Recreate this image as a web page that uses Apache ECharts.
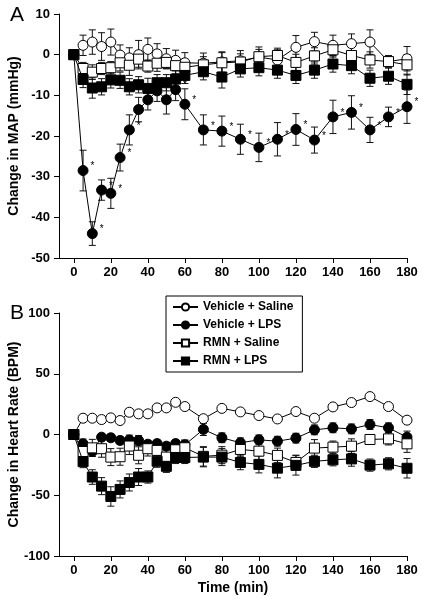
<!DOCTYPE html>
<html>
<head>
<meta charset="utf-8">
<script src="https://cdn.jsdelivr.net/npm/echarts@6/dist/echarts.min.js"></script>
<style>
html,body{margin:0;padding:0;background:#fff;}
#chart{width:426px;height:606px;}
</style>
</head>
<body>
<div id="chart"></div>
<script>
// ---- data ----
var times = [0,5,10,15,20,25,30,35,40,45,50,55,60,70,80,90,100,110,120,130,140,150,160,170,180];
var xTicks = [0,20,40,60,80,100,120,140,160,180];
var seriesNames = ['Vehicle + Saline','Vehicle + LPS','RMN + Saline','RMN + LPS'];

// Panel A: Change in MAP (mmHg)
var vsMap    = [0,2.3,3.1,2.0,3.1,-0.1,-0.8,0.0,1.3,0.2,-1.0,-1.4,-2.0,-2.1,-1.8,-1.5,-0.6,-1.3,1.8,3.2,2.3,2.7,3.1,-1.7,-1.0];
var vsMapErr = [0,2.5,3.0,3.4,3.2,2.5,2.5,3.5,2.8,2.5,2.5,2.5,2.5,2.5,2.5,2.5,2.5,2.5,2.9,2.3,2.5,2.4,3.0,1.5,3.0];
var vlMap    = [0,-28.5,-44.0,-33.3,-34.1,-25.3,-18.5,-13.5,-11.1,-8.9,-11.1,-8.6,-12.2,-18.5,-18.8,-20.8,-22.8,-20.8,-18.4,-21.0,-15.3,-14.2,-18.5,-15.3,-12.8];
var vlMapErr = [0,5.0,2.9,2.5,3.7,3.3,3.7,3.0,2.5,2.6,3.5,2.7,3.8,3.7,3.7,3.7,3.5,4.1,3.9,3.2,4.1,4.1,3.1,2.4,4.1];
var rsMap    = [0,-3.4,-4.3,-3.4,-3.2,-2.0,-2.6,-1.1,-2.8,-2.1,-1.9,-2.7,-3.1,-2.5,-2.0,-1.8,-0.5,-0.2,-1.9,-0.3,1.2,-0.2,-1.3,-1.7,-2.5];
var rsMapErr = [0,1.5,1.8,1.5,1.5,2.0,2.5,2.0,1.5,2.0,1.5,2.0,2.0,2.0,2.5,2.0,1.8,1.8,2.0,2.0,1.8,2.0,2.0,1.0,2.5];
var rlMap    = [0,-6.1,-8.2,-7.9,-6.2,-6.3,-7.9,-7.4,-8.3,-6.9,-6.9,-6.0,-5.1,-4.2,-5.5,-3.5,-3.2,-3.8,-5.1,-3.8,-2.3,-2.7,-5.8,-5.3,-7.3];
var rlMapErr = [0,2.0,2.5,2.0,2.0,2.0,2.0,2.0,2.5,2.0,2.0,2.0,2.0,2.0,2.7,2.0,2.0,2.0,2.0,2.0,2.0,2.0,2.0,2.0,2.5];

// Panel B: Change in Heart Rate (BPM)
var vsHr    = [0,13.4,13.4,12.3,13.7,11.5,18.3,17.0,17.0,21.9,21.9,26.5,23.0,13.0,21.5,18.6,15.6,12.8,18.9,13.4,22.7,26.3,31.2,23.0,11.8];
var vsHrErr = [0,2,2,2,2,2,3,2,2,2,2,2,2,2,2,2,2,2,2,2,2,2,2,2,2.5];
var vlHr    = [0,-7.7,-14,-2.2,-2.7,-4.9,-4.5,-4.9,-8,-7.5,-9.6,-7.5,-8.5,4.2,-2.7,-6.8,-4.4,-5.5,-3.0,3.8,5.5,4.6,8.2,5.5,-2.2];
var vlHrErr = [0,4,4,3,3,3,4,4,3,3,3,3,4,5,4,4,4,4,4,4,4,4,4,4,5];
var rsHr    = [0,-14,-11,-11.7,-18.6,-18.3,-9.5,-17.1,-11.7,-13.1,-18.6,-12.6,-10.9,-18,-17,-12.3,-13.7,-17.2,-23,-11.2,-10.4,-9.6,-4.1,-3.6,-7.7];
var rsHrErr = [0,7,7,7,7,7,7,7,6,6,6,6,6,8,7,6,7,6,6,7,5,6,4,5,7];
var rlHr    = [0,-22.3,-35,-42.5,-51,-45.2,-39.5,-35,-35,-22,-26.2,-18.9,-18.9,-18.6,-18.6,-23,-24.6,-27.7,-25.4,-22.1,-20.8,-20.1,-25.2,-24.1,-27.8];
var rlHrErr = [0,5,6,7,8,7,7,7,5,5,5,5,5,8,7,6,7,8,8,5,5,6,5,5,8];

// ---- build ----
var FONT = '"Liberation Sans", Arial, sans-serif';
var styles = [
  {symbol:'circle', fill:'#fff'},
  {symbol:'circle', fill:'#000'},
  {symbol:'rect', fill:'#fff'},
  {symbol:'rect', fill:'#000'}
];
function pairs(m){ return times.map(function(t,i){ return [t, m[i]]; }); }
function triples(m,e){ return times.map(function(t,i){ return [t, m[i], e[i]]; }); }

function errRender(params, api){
  var x = api.value(0), y = api.value(1), e = api.value(2);
  if (!e) return null;
  var top = api.coord([x, y + e]), bot = api.coord([x, y - e]);
  var w = 3.5, st = {stroke:'#111', lineWidth:1};
  return {type:'group', children:[
    {type:'line', shape:{x1:top[0],y1:top[1],x2:bot[0],y2:bot[1]}, style:st},
    {type:'line', shape:{x1:top[0]-w,y1:top[1],x2:top[0]+w,y2:top[1]}, style:st},
    {type:'line', shape:{x1:bot[0]-w,y1:bot[1],x2:bot[0]+w,y2:bot[1]}, style:st}
  ]};
}

var series = [];
function addPanel(idx, means, errs){
  for (var k=0;k<4;k++){
    series.push({
      type:'custom', xAxisIndex:idx, yAxisIndex:idx, renderItem:errRender,
      data:triples(means[k], errs[k]), z:2, silent:true
    });
  }
  for (var k=0;k<4;k++){
    var s = {
      name:seriesNames[k], type:'line', xAxisIndex:idx, yAxisIndex:idx,
      data:pairs(means[k]), symbol:styles[k].symbol, symbolSize:10,
      showAllSymbol:true, z:3 + k,
      lineStyle:{color:'#000', width:1},
      itemStyle:{color:styles[k].fill, borderColor:'#000', borderWidth:1, opacity:1},
      emphasis:{disabled:true}, animation:false
    };
    if (idx === 0 && k === 1) {
      s.label = {show:true, position:'right', distance:2, offset:[0,-4],
        fontSize:10, color:'#000', fontFamily:FONT,
        formatter:function(p){ return p.dataIndex > 0 ? '*' : ''; }};
    }
    series.push(s);
  }
}
addPanel(0, [vsMap, vlMap, rsMap, rlMap], [vsMapErr, vlMapErr, rsMapErr, rlMapErr]);
addPanel(1, [vsHr, vlHr, rsHr, rlHr], [vsHrErr, vlHrErr, rsHrErr, rlHrErr]);

var axisTxt = {color:'#000', fontSize:13, fontWeight:'bold', fontFamily:FONT};
var nameTxt = {color:'#000', fontSize:14, fontWeight:'bold', fontFamily:FONT};
function xAx(idx, name){
  return {
    type:'value', gridIndex:idx, min:-8, max:180,
    name:name || '', nameLocation:'middle', nameGap:25, nameTextStyle:nameTxt,
    nameMoveOverlap:false,
    axisLine:{show:true, onZero:false, lineStyle:{color:'#000', width:1}},
    axisTick:{show:true, length:5, customValues:xTicks, lineStyle:{color:'#000'}},
    axisLabel:Object.assign({margin:8, customValues:xTicks}, axisTxt),
    splitLine:{show:false}
  };
}
function yAx(idx, name, mn, mx, iv){
  return {
    type:'value', gridIndex:idx, min:mn, max:mx, interval:iv,
    name:name, nameLocation:'middle', nameGap:38, nameTextStyle:nameTxt,
    nameMoveOverlap:false,
    axisLine:{show:true, onZero:false, lineStyle:{color:'#000', width:1}},
    axisTick:{show:true, length:5, lineStyle:{color:'#000'}},
    axisLabel:Object.assign({margin:9}, axisTxt),
    splitLine:{show:false}
  };
}

var option = {
  backgroundColor:'#fff',
  animation:false,
  grid:[
    {left:59, top:14, width:348, height:244, containLabel:false, outerBoundsMode:'none'},
    {left:59, top:313, width:348, height:243, containLabel:false, outerBoundsMode:'none'}
  ],
  xAxis:[xAx(0), xAx(1, 'Time (min)')],
  yAxis:[yAx(0, 'Change in MAP (mmHg)', -50, 10, 10), yAx(1, 'Change in Heart Rate (BPM)', -100, 100, 50)],
  legend:{
    data:seriesNames, orient:'vertical', left:166, top:296,
    itemWidth:25, itemHeight:9, itemGap:6,
    padding:[5,9,5,6], borderColor:'#000', borderWidth:1, backgroundColor:'#fff',
    textStyle:{color:'#000', fontSize:12, fontWeight:'bold', fontFamily:FONT},
    selectedMode:false
  },
  graphic:[
    {type:'text', left:10, top:5, style:{text:'A', font:'21px "Liberation Sans", Arial, sans-serif', fill:'#000'}},
    {type:'text', left:10, top:303, style:{text:'B', font:'21px "Liberation Sans", Arial, sans-serif', fill:'#000'}}
  ],
  series:series
};
var chart = echarts.init(document.getElementById('chart'), null, {renderer:'canvas'});
chart.setOption(option);
</script>
</body>
</html>
